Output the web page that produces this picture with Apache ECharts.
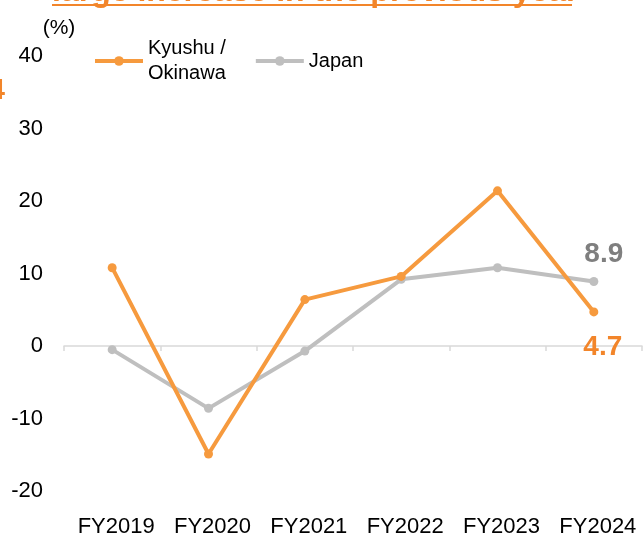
<!DOCTYPE html>
<html>
<head>
<meta charset="utf-8">
<script src="https://cdn.jsdelivr.net/npm/echarts@6/dist/echarts.min.js"></script>
<style>
  html, body { margin: 0; padding: 0; background: #fff; }
  #chart { width: 644px; height: 538px; }
</style>
</head>
<body>
<div id="chart"></div>
<script>
// Year-on-year change (%), fiscal years
const categories = ['FY2019', 'FY2020', 'FY2021', 'FY2022', 'FY2023', 'FY2024'];
const kyushuOkinawa = [10.8, -14.9, 6.4, 9.6, 21.4, 4.7];
const japan = [-0.5, -8.6, -0.7, 9.2, 10.8, 8.9];
const yTicks = { min: -20, max: 40, interval: 10 };

const FONT = "'Liberation Sans', Arial, sans-serif";
const ORANGE_LINE = '#F69A3E';
const ORANGE_TEXT = '#F2852A';
const GRAY_LINE = '#BFBFBF';
const GRAY_TEXT = '#7F7F7F';

// Only the latest year carries a value label
function withLastLabel(values, labelOpts) {
  return values.map((v, i) => i === values.length - 1 ? { value: v, label: labelOpts } : v);
}

const chart = echarts.init(document.getElementById('chart'), null, { renderer: 'canvas' });

chart.setOption({
  animation: false,
  backgroundColor: '#fff',
  textStyle: { fontFamily: FONT },
  grid: { left: 64, right: 2, top: 56, bottom: 45 },
  legend: {
    left: 88,
    top: 31,
    itemWidth: 48,
    itemHeight: 12,
    itemGap: 28,
    lineStyle: { width: 4 },
    textStyle: { fontSize: 20, lineHeight: 25, color: '#000', fontFamily: FONT },
    data: ['Kyushu /\nOkinawa', 'Japan']
  },
  xAxis: [
    {
      type: 'category',
      data: categories,
      position: 'bottom',
      axisLine: { show: false, onZero: false },
      axisTick: { show: false },
      axisLabel: { interval: 0, fontSize: 22, color: '#000', margin: 25, padding: [0, 0, 0, 8], fontFamily: FONT }
    },
    {
      type: 'category',
      data: categories,
      position: 'bottom',
      axisLine: { show: true, onZero: true, lineStyle: { color: '#D9D9D9', width: 1.5 } },
      axisTick: { show: true, length: 5, lineStyle: { color: '#D9D9D9', width: 1.5 } },
      axisLabel: { show: false }
    }
  ],
  yAxis: {
    type: 'value',
    min: yTicks.min,
    max: yTicks.max,
    interval: yTicks.interval,
    axisLine: { show: false },
    axisTick: { show: false },
    splitLine: { show: false },
    axisLabel: { fontSize: 22, color: '#000', margin: 21, fontFamily: FONT }
  },
  series: [
    {
      name: 'Kyushu /\nOkinawa',
      type: 'line',
      xAxisIndex: 0,
      data: withLastLabel(kyushuOkinawa, {
        show: true, position: 'bottom', distance: 5, offset: [9, 12],
        formatter: '{c}', fontSize: 28, fontWeight: 'bold', color: ORANGE_TEXT, fontFamily: FONT
      }),
      symbol: 'circle',
      symbolSize: 9,
      z: 3,
      lineStyle: { color: ORANGE_LINE, width: 4 },
      itemStyle: { color: ORANGE_LINE }
    },
    {
      name: 'Japan',
      type: 'line',
      xAxisIndex: 0,
      data: withLastLabel(japan, {
        show: true, position: 'top', distance: 5, offset: [10, -4],
        formatter: '{c}', fontSize: 28, fontWeight: 'bold', color: GRAY_TEXT, fontFamily: FONT
      }),
      symbol: 'circle',
      symbolSize: 9,
      z: 2,
      lineStyle: { color: GRAY_LINE, width: 4 },
      itemStyle: { color: GRAY_LINE }
    }
  ],
  graphic: [
    {
      type: 'text', left: 52, top: -24,
      style: { text: 'large increase in the previous year', font: 'bold 32px ' + FONT, fill: ORANGE_TEXT }
    },
    {
      type: 'rect', shape: { x: 52, y: 4, width: 520, height: 2 },
      style: { fill: ORANGE_TEXT }
    },
    {
      type: 'text', x: 5, y: 91,
      style: { text: '4', font: 'bold 30px ' + FONT, fill: ORANGE_TEXT, align: 'right', verticalAlign: 'middle' }
    },
    {
      type: 'text', x: 59, y: 28,
      style: { text: '(%)', font: '21px ' + FONT, fill: '#000', align: 'center', verticalAlign: 'middle' }
    }
  ]
});
</script>
</body>
</html>
